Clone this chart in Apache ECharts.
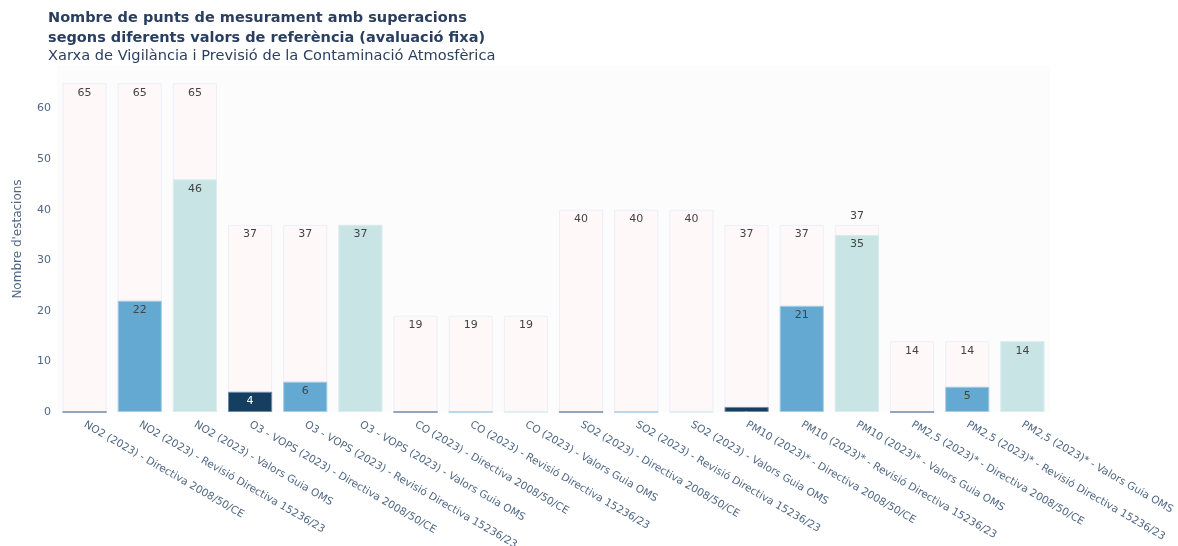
<!DOCTYPE html>
<html>
<head>
<meta charset="utf-8">
<style>
  html, body { margin: 0; padding: 0; background: #ffffff; }
  #chart { width: 1178px; height: 546px; }
</style>
<script src="https://cdn.jsdelivr.net/npm/echarts@6/dist/echarts.min.js"></script>
</head>
<body>
<div id="chart"></div>
<script>
// Measurement points per pollutant and reference value
const categories = [
  'NO2 (2023) - Directiva 2008/50/CE',
  'NO2 (2023) - Revisió Directiva 15236/23',
  'NO2 (2023) - Valors Guia OMS',
  'O3 - VOPS (2023) - Directiva 2008/50/CE',
  'O3 - VOPS (2023) - Revisió Directiva 15236/23',
  'O3 - VOPS (2023) - Valors Guia OMS',
  'CO (2023) - Directiva 2008/50/CE',
  'CO (2023) - Revisió Directiva 15236/23',
  'CO (2023) - Valors Guia OMS',
  'SO2 (2023) - Directiva 2008/50/CE',
  'SO2 (2023) - Revisió Directiva 15236/23',
  'SO2 (2023) - Valors Guia OMS',
  'PM10 (2023)* - Directiva 2008/50/CE',
  'PM10 (2023)* - Revisió Directiva 15236/23',
  'PM10 (2023)* - Valors Guia OMS',
  'PM2,5 (2023)* - Directiva 2008/50/CE',
  'PM2,5 (2023)* - Revisió Directiva 15236/23',
  'PM2,5 (2023)* - Valors Guia OMS'
];

// total stations measuring each pollutant
const totalStations = [65, 65, 65, 37, 37, 37, 19, 19, 19, 40, 40, 40, 37, 37, 37, 14, 14, 14];
// stations exceeding the reference value
const exceedances = [0, 22, 46, 4, 6, 37, 0, 0, 0, 0, 0, 0, 1, 21, 35, 0, 5, 14];
// reference type of each category: 0 = Directiva, 1 = Revisió, 2 = OMS
const referenceType = [0, 1, 2, 0, 1, 2, 0, 1, 2, 0, 1, 2, 0, 1, 2, 0, 1, 2];

const yTicks = [0, 10, 20, 30, 40, 50, 60];

const fillColors = ['#143f61', '#64a9d1', '#c9e4e5'];
const edgeColors = ['#6f8aa8', '#a8cde6', '#d9edee'];
const labelColors = ['#ffffff', '#444444', '#444444'];

const FONT = 'DejaVu Sans, Verdana, sans-serif';

const totalData = totalStations.map((v, i) => {
  const item = { value: v };
  // when the exceedance bar nearly fills the total bar, the total label moves above it
  if (exceedances[i] < v && v - exceedances[i] < 4) {
    item.label = { position: 'top', distance: 3 };
  }
  return item;
});

const exceedData = exceedances.map((v, i) => {
  const t = referenceType[i];
  return {
    value: v,
    itemStyle: { color: fillColors[t], borderColor: edgeColors[t] },
    label: { color: labelColors[t], fontSize: v < 2 ? 6 : 11 }
  };
});

const chart = echarts.init(document.getElementById('chart'), null, { renderer: 'canvas' });

chart.setOption({
  backgroundColor: '#ffffff',
  animation: false,
  title: [
    {
      text: 'Nombre de punts de mesurament amb superacions\nsegons diferents valors de referència (avaluació fixa)',
      left: 48,
      top: 8,
      padding: 0,
      textStyle: { fontFamily: FONT, fontSize: 14.5, fontWeight: 'bold', color: '#2a3f5f', lineHeight: 20 }
    },
    {
      text: 'Xarxa de Vigilància i Previsió de la Contaminació Atmosfèrica',
      left: 48,
      top: 49,
      padding: 0,
      textStyle: { fontFamily: FONT, fontSize: 14.6, fontWeight: 'normal', color: '#2a3f5f' }
    }
  ],
  grid: {
    left: 57,
    right: 128,
    top: 66,
    bottom: 134,
    outerBoundsMode: 'none',
    containLabel: false,
    show: true,
    backgroundColor: '#fcfcfd',
    borderWidth: 0
  },
  xAxis: {
    type: 'category',
    data: categories,
    axisLine: { show: false },
    axisTick: { show: false },
    axisLabel: {
      interval: 0,
      rotate: -30,
      margin: 12,
      fontFamily: FONT,
      fontSize: 10.5,
      color: '#506784'
    }
  },
  yAxis: {
    type: 'value',
    min: 0,
    max: 68.4,
    interval: 10,
    name: "Nombre d'estacions",
    nameLocation: 'middle',
    nameGap: 33,
    nameTextStyle: { fontFamily: FONT, fontSize: 12, color: '#506784' },
    axisLine: { show: false },
    axisTick: { show: false },
    splitLine: { show: false },
    axisLabel: {
      fontFamily: FONT,
      fontSize: 11,
      color: '#506784',
      margin: 6,
      formatter: v => (yTicks.indexOf(v) >= 0 ? String(v) : '')
    }
  },
  series: [
    {
      name: 'Total',
      type: 'bar',
      data: totalData,
      barCategoryGap: '20%',
      barGap: '-100%',
      itemStyle: { color: '#fef8f8', borderColor: '#eceff8', borderWidth: 1 },
      label: {
        show: true,
        position: 'insideTop',
        distance: 4,
        fontFamily: FONT,
        fontSize: 11,
        color: '#444444'
      },
      z: 1
    },
    {
      name: 'Superacions',
      type: 'bar',
      data: exceedData,
      barCategoryGap: '20%',
      barGap: '-100%',
      itemStyle: { borderWidth: 1 },
      label: {
        show: true,
        position: 'insideTop',
        distance: 4,
        fontFamily: FONT,
        fontSize: 11,
        formatter: p => (p.value > 0 ? String(p.value) : '')
      },
      z: 2
    }
  ]
});
</script>
</body>
</html>
